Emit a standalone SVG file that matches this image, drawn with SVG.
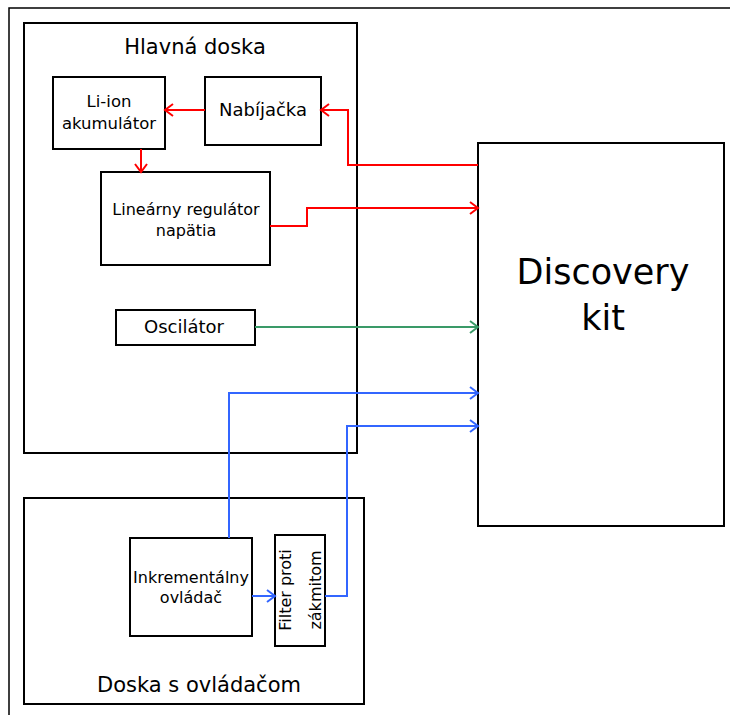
<svg xmlns="http://www.w3.org/2000/svg" width="730" height="715" viewBox="0 0 730 715">
  <style>
    .box { fill: #ffffff; stroke: #000000; stroke-width: 2; }
    .frame { fill: none; stroke: #000000; stroke-width: 1.5; }
    text { font-family: "DejaVu Sans", Verdana, sans-serif; fill: #000000; text-anchor: middle; }
    .title { font-size: 21px; }
    .lbl { font-size: 16px; }
    .lbl-bat { font-size: 16.5px; }
    .lbl18 { font-size: 18px; }
    .big { font-size: 35px; }
    .wire { fill: none; stroke-width: 2; }
    .red { stroke: #ff0000; }
    .green { stroke: #3a9a68; }
    .blue { stroke: #3366ff; }
  </style>
  <defs>
    <marker id="arrRed" markerUnits="userSpaceOnUse" markerWidth="12" markerHeight="14" refX="9" refY="7" orient="auto">
      <path d="M1,1 L9,7 L1,13" fill="none" stroke="#ff0000" stroke-width="2"/>
    </marker>
    <marker id="arrGreen" markerUnits="userSpaceOnUse" markerWidth="12" markerHeight="14" refX="9" refY="7" orient="auto">
      <path d="M1,1 L9,7 L1,13" fill="none" stroke="#3a9a68" stroke-width="2"/>
    </marker>
    <marker id="arrBlue" markerUnits="userSpaceOnUse" markerWidth="12" markerHeight="14" refX="9" refY="7" orient="auto">
      <path d="M1,1 L9,7 L1,13" fill="none" stroke="#3366ff" stroke-width="2"/>
    </marker>
  </defs>

  <!-- page frame (top and left edges) -->
  <path class="frame" d="M9,715 L9,8 L730,8"/>

  <!-- main board -->
  <g id="hlavna-doska">
    <rect class="box" x="24" y="23" width="333" height="430"/>
    <text class="title" x="195" y="54">Hlavná doska</text>
  </g>

  <!-- controller board -->
  <g id="doska-s-ovladacom">
    <rect class="box" x="24" y="498" width="340" height="206"/>
    <text class="title" x="199" y="692">Doska s ovládačom</text>
  </g>

  <g id="li-ion">
    <rect class="box" x="53" y="77" width="112" height="72"/>
    <text class="lbl-bat" x="109" y="107">Li-ion</text>
    <text class="lbl-bat" x="109" y="129">akumulátor</text>
  </g>

  <g id="nabijacka">
    <rect class="box" x="205" y="77" width="116" height="68"/>
    <text class="lbl18" x="263" y="116">Nabíjačka</text>
  </g>

  <g id="regulator">
    <rect class="box" x="101" y="172" width="169" height="93"/>
    <text class="lbl" x="186" y="215">Lineárny regulátor</text>
    <text class="lbl" x="186" y="236">napätia</text>
  </g>

  <g id="oscilator">
    <rect class="box" x="116" y="310" width="139" height="35"/>
    <text class="lbl18" x="184" y="333">Oscilátor</text>
  </g>

  <g id="inkrementalny">
    <rect class="box" x="130" y="538" width="122" height="98"/>
    <text class="lbl" x="191" y="583">Inkrementálny</text>
    <text class="lbl" x="191" y="603">ovládač</text>
  </g>

  <g id="filter">
    <rect class="box" x="275" y="535" width="50" height="111"/>
    <g transform="translate(300,590) rotate(-90)">
      <text class="lbl" x="0" y="-9">Filter proti</text>
      <text class="lbl" x="0" y="21">zákmitom</text>
    </g>
  </g>

  <g id="discovery">
    <rect class="box" x="478" y="143" width="246" height="383"/>
    <text class="big" x="603" y="284">Discovery</text>
    <text class="big" x="603" y="330">kit</text>
  </g>

  <!-- connectors -->
  <g id="connectors">
    <path class="wire red" d="M205,110 L165,110" marker-end="url(#arrRed)"/>
    <path class="wire red" d="M141,149 L141,172" marker-end="url(#arrRed)"/>
    <path class="wire red" d="M478,165 L348,165 L348,110 L321,110" marker-end="url(#arrRed)"/>
    <path class="wire red" d="M270,226 L307,226 L307,208 L478,208" marker-end="url(#arrRed)"/>
    <path class="wire green" d="M255,327 L478,327" marker-end="url(#arrGreen)"/>
    <path class="wire blue" d="M229,538 L229,393 L478,393" marker-end="url(#arrBlue)"/>
    <path class="wire blue" d="M325,596 L347,596 L347,426 L478,426" marker-end="url(#arrBlue)"/>
    <path class="wire blue" d="M252,596 L275,596" marker-end="url(#arrBlue)"/>
  </g>
</svg>
